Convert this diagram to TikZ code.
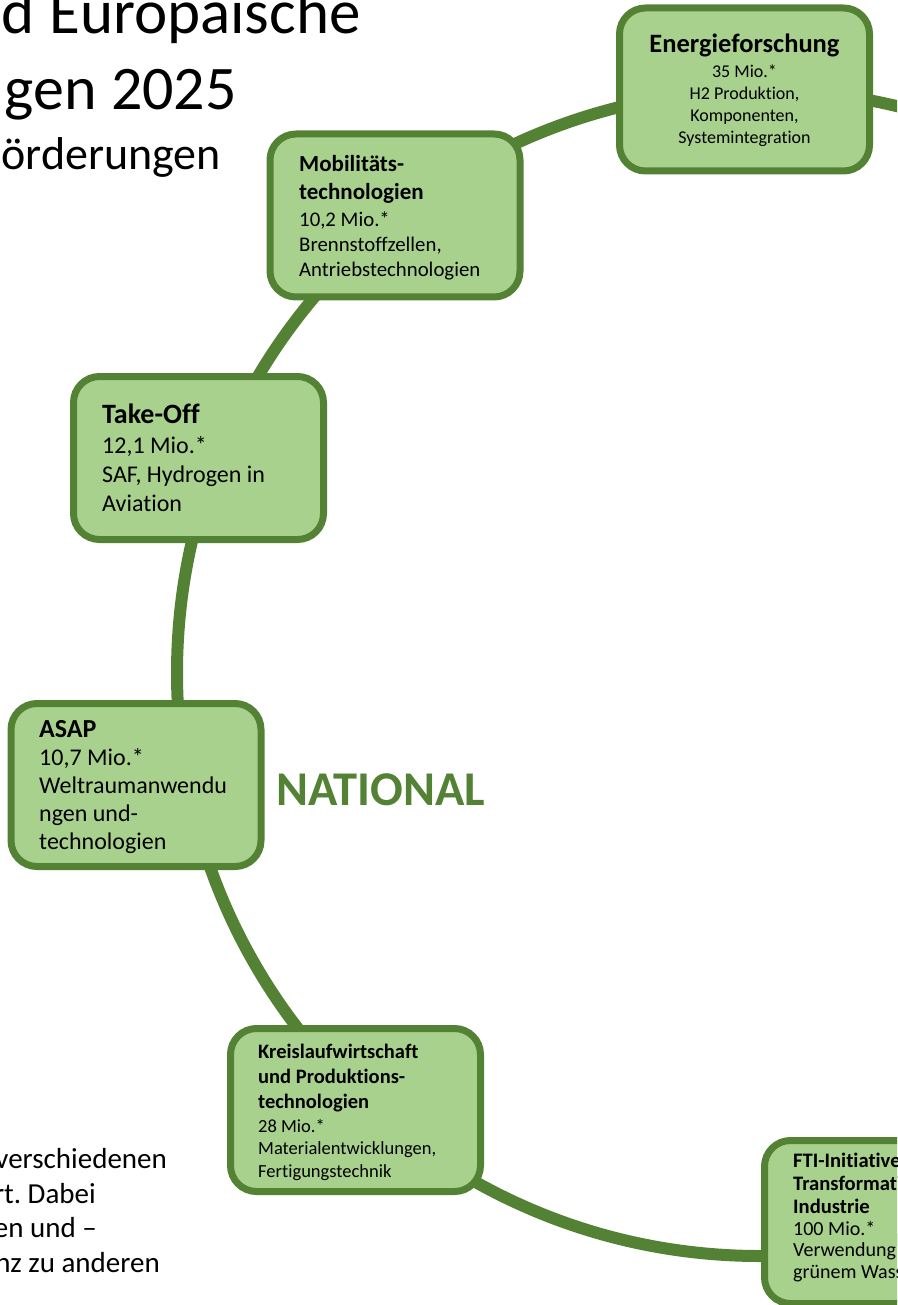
\documentclass[tikz,border=0pt]{standalone}
\usepackage{fontspec}
\setmainfont{Carlito}[Ligatures=NoCommon]
\frenchspacing
\definecolor{dkgreen}{HTML}{548235}
\definecolor{ltgreen}{HTML}{A9D18E}
\tikzset{
  box/.style={rectangle, draw=dkgreen, fill=ltgreen, line width=7pt, rounded corners=26pt,
    minimum width=250pt, minimum height=163pt, inner sep=0pt},
  ring/.style={draw=dkgreen, line width=12pt},
  txt/.style={inner sep=0pt, anchor=base west, align=flush left, text width=240pt},
  ctxt/.style={inner sep=0pt, anchor=base, align=flush center, text width=240pt},
  big/.style={inner sep=0pt, anchor=base east},
}
\begin{document}
\begin{tikzpicture}[x=1pt,y=-1pt]
\useasboundingbox (0,0) rectangle (897,1305);
\clip (0,0) rectangle (897,1305);
% ring
\coordinate (rc) at (760,673);
\draw[ring] (rc) circle[radius=583pt];
% boxes
\node[box] (energie) at (744.5,89.5) {};
\node[box] (mobil) at (395,215.5) {};
\node[box] (takeoff) at (198.5,458) {};
\node[box] (asap) at (136,785) {};
\node[box] (kreis) at (355.5,1110) {};
\node[box] (fti) at (889.5,1222) {};
% box texts
\node[ctxt, font=\bfseries\fontsize{26.5}{31}\selectfont] (energieT) at (744.5,53) {Energieforschung};
\node[ctxt, font=\fontsize{18}{22}\selectfont] (energieB) at (744.5,78) {35 Mio.*\\H2 Produktion,\\Komponenten,\\Systemintegration};
\node[txt, font=\bfseries\fontsize{23}{28}\selectfont] (mobilT) at (299,172) {Mobilitäts-\\technologien};
\node[txt, font=\fontsize{20.8}{25}\selectfont] (mobilB) at (299,227) {10,2 Mio.*\\Brennstoffzellen,\\Antriebstechnologien};
\node[txt, font=\bfseries\fontsize{28}{29}\selectfont] (takeoffT) at (102,423) {Take-Off};
\node[txt, font=\fontsize{24}{29}\selectfont] (takeoffB) at (102,453) {12,1 Mio.*\\SAF, Hydrogen in\\Aviation};
\node[txt, font=\bfseries\fontsize{26}{28.3}\selectfont] (asapT) at (39,737) {ASAP};
\node[txt, font=\fontsize{24}{28.3}\selectfont] (asapB) at (39,765) {10,7 Mio.*\\Weltraumanwendu\\ngen und-\\technologien};
\node[txt, font=\bfseries\fontsize{20.5}{25}\selectfont] (kreisT) at (258,1058) {Kreislaufwirtschaft\\und Produktions-\\technologien};
\node[txt, font=\fontsize{18.5}{22.5}\selectfont] (kreisB) at (258,1132) {28 Mio.*\\Materialentwicklungen,\\Fertigungstechnik};
\node[txt, font=\bfseries\fontsize{20.6}{23}\selectfont] (ftiT) at (793,1167) {FTI-Initiative\\Transformation\\Industrie};
\node[txt, font=\fontsize{20}{21.5}\selectfont] (ftiB) at (793,1235) {100 Mio.*\\Verwendung von\\grünem Wasserstoff};
% centre label
\node[inner sep=0pt, anchor=base west, text=dkgreen, font=\bfseries\fontsize{48.5}{58}\selectfont] (national) at (276,805) {NATIONAL};
% title (cropped)
\node[big, font=\fontsize{63}{76}\selectfont] (title1) at (361,34) {d Europäische};
\node[big, font=\fontsize{62}{75}\selectfont] (title2) at (237,110) {gen 2025};
\node[big, font=\fontsize{46}{55}\selectfont] (title3) at (221,170) {örderungen};
% body text (cropped)
\node[big, font=\fontsize{29}{34.7}\selectfont] (p1) at (167,1168) {verschiedenen};
\node[big, font=\fontsize{29}{34.7}\selectfont] (p2) at (96,1203) {rt. Dabei};
\node[big, font=\fontsize{29}{34.7}\selectfont] (p3) at (97,1237) {en und –};
\node[big, font=\fontsize{29}{34.7}\selectfont] (p4) at (160,1272) {nz zu anderen};
\end{tikzpicture}
\end{document}
